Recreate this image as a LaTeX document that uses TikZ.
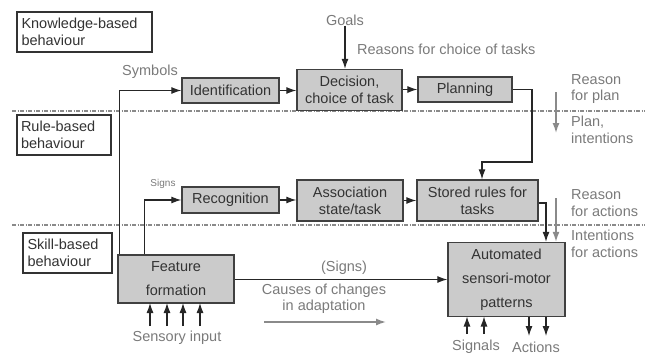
\documentclass[tikz,border=0pt]{standalone}
\usepackage{fontspec}
\setmainfont{Liberation Sans}
\usetikzlibrary{arrows.meta}
\definecolor{boxfill}{HTML}{CBCBCB}
\definecolor{boxtext}{HTML}{333333}
\definecolor{labeltext}{HTML}{7A7A7A}
\definecolor{lvlline}{HTML}{8A8A8A}
\begin{document}
\begin{tikzpicture}[x=1pt,y=-1pt,
  every node/.style={font=\fontsize{14.5}{17}\selectfont},
  procbox/.style={draw=black!75,line width=1.4pt,fill=boxfill,text=boxtext,
    align=center,inner sep=0pt},
  levelbox/.style={draw=black!80,line width=1.3pt,fill=white,text=boxtext,
    align=left,inner sep=0pt,text width=#1},
  lbl/.style={text=labeltext,inner sep=0pt},
  conn/.style={line width=1.1pt,draw=black!85,-{Latex[length=10pt,width=7pt]}},
  grayconn/.style={line width=1.4pt,draw=lvlline,-{Latex[length=10pt,width=7pt]}},
  levelline/.style={draw=lvlline,line width=1.1pt,
    dash pattern=on 4pt off 1.5pt on 1pt off 1.5pt}]
\useasboundingbox (0,0) rectangle (661,356);

% level separators
\draw[levelline] (12,111) -- (645,111);
\draw[levelline] (12,225) -- (645,225);

% level titles
\node[levelbox=126pt,minimum width=135pt,minimum height=40pt] (know) at (84.5,32)
  {\fontsize{14.5}{16}\selectfont Knowledge-based\\behaviour};
\node[levelbox=86pt,minimum width=94pt,minimum height=40pt] (rule) at (64,135)
  {\fontsize{14.5}{16}\selectfont Rule-based\\behaviour};
\node[levelbox=80pt,minimum width=89pt,minimum height=40pt] (skill) at (67.5,253)
  {\fontsize{14.5}{16}\selectfont Skill-based\\behaviour};

% knowledge-based level
\node[procbox,minimum width=97pt,minimum height=25pt] (ident) at (230.5,90.5) {Identification};
\node[procbox,minimum width=105pt,minimum height=41pt] (decide) at (349.5,90) {Decision,\\choice of task};
\node[procbox,minimum width=94pt,minimum height=25pt] (plan) at (465,89.5) {Planning};

% rule-based level
\node[procbox,minimum width=97pt,minimum height=26pt] (recog) at (230.5,200) {Recognition};
\node[procbox,minimum width=106pt,minimum height=41pt] (assoc) at (350,200.5) {Association\\state/task};
\node[procbox,minimum width=121pt,minimum height=41pt] (stored) at (477.5,200.5) {Stored rules for\\tasks};

% skill-based level
\node[procbox,minimum width=116pt,minimum height=48pt,
  font=\fontsize{14.5}{24}\selectfont] (feature) at (176,279) {Feature\\formation};
\node[procbox,minimum width=117pt,minimum height=74pt,
  font=\fontsize{14.5}{24}\selectfont] (auto) at (506.5,279.5) {Automated\\sensori-motor\\patterns};

% labels
\node[lbl] (goals) at (345,20) {Goals};
\node[lbl,anchor=west] (reasons) at (357,49) {Reasons for choice of tasks};
\node[lbl] (symbols) at (150,72) {Symbols};
\node[lbl,font=\fontsize{10}{12}\selectfont] (signs) at (163,184) {Signs};
\node[lbl,anchor=west,align=left,font=\fontsize{14.5}{16.5}\selectfont] (rplan) at (571,89) {Reason\\for plan};
\node[lbl,anchor=west,align=left,font=\fontsize{14.5}{16.5}\selectfont] (pint) at (571,130) {Plan,\\intentions};
\node[lbl,anchor=west,align=left,font=\fontsize{14.5}{16.5}\selectfont] (ract) at (571,203) {Reason\\for actions};
\node[lbl,anchor=west,align=left,font=\fontsize{14.5}{16.5}\selectfont] (iact) at (571,244) {Intentions\\for actions};
\node[lbl] (signsp) at (344,268) {(Signs)};
\node[lbl,align=center,font=\fontsize{14.5}{16}\selectfont] (causes) at (324,299) {Causes of changes\\in adaptation};
\node[lbl] (sensory) at (177,338) {Sensory input};
\node[lbl] (signals) at (476,347) {Signals};
\node[lbl] (actions) at (536,347) {Actions};

% free ends of connectors
\coordinate (rp0) at (556,92);
\coordinate (rp1) at (556,133);
\coordinate (ra0) at (556,198);
\coordinate (ca0) at (264,322);
\coordinate (ca1) at (386,322);
\coordinate (plturn) at (532,162);

% connectors between processes
\draw[conn] (goals.south) -- (goals.south |- decide.north);
\draw[conn] ([xshift=2pt]feature.north west) |- (ident.west);
\draw[conn] ([xshift=27pt]feature.north west) |- (recog.west);
\draw[conn] (ident.east) -- (ident.east -| decide.west);
\draw[conn] (decide.east |- plan.west) -- (plan.west);
\draw[conn] (recog.east) -- (recog.east -| assoc.west);
\draw[conn] (assoc.east) -- (stored.west);
\draw[conn] (plan.east) -| (plturn) -| ([xshift=4.5pt]stored.north);
\draw[conn] ([yshift=-2.5pt]stored.east) -| ([xshift=39.5pt]auto.north);
\draw[conn] (feature.east |- auto.west) -- (auto.west);

% flows of reasons and adaptation
\draw[grayconn] (rp0) -- (rp1);
\draw[grayconn] (ra0) -- (ra0 |- auto.north);
\draw[grayconn] (ca0) -- (ca1);

% sensory inputs, signals and actions
\foreach \x in {150,167,183,200}
  \draw[conn] (\x,326) -- (\x,303);
\foreach \x in {467,484}
  \draw[conn] (\x,334) -- (\x,316.5);
\foreach \x in {529,546}
  \draw[conn] (\x,316.5) -- (\x,336);
\end{tikzpicture}
\end{document}
